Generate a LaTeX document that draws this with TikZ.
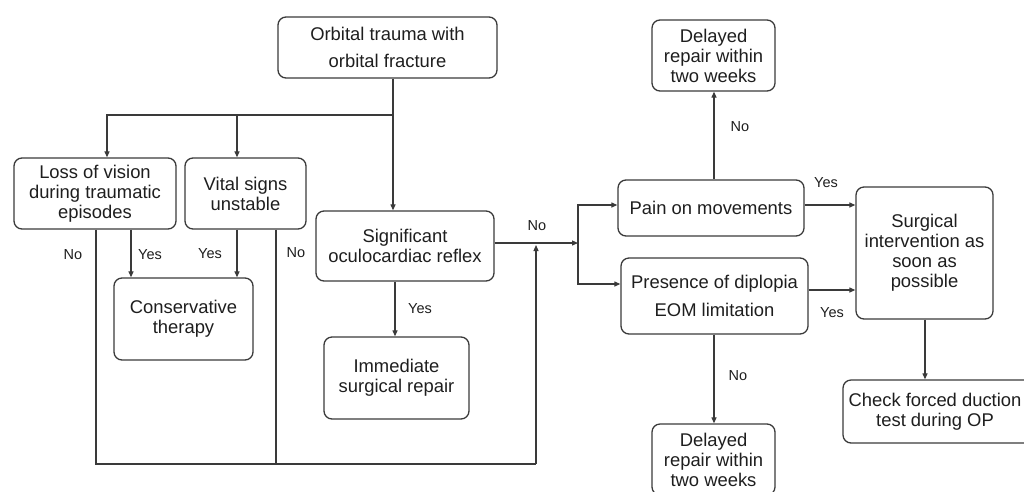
\documentclass[tikz,border=0pt]{standalone}
\usepackage{fontspec}
\setmainfont{Liberation Sans}
\usetikzlibrary{arrows.meta}
\definecolor{lc}{HTML}{3A3A3A}
\definecolor{tc}{HTML}{1E1E1E}
\tikzset{
  box/.style={draw=lc, line width=1.3pt, rounded corners=8pt, align=center, inner sep=0pt, text=tc,
    font=\fontsize{18.4}{20}\selectfont},
  widebox/.style={box, font=\fontsize{18.4}{27.5}\selectfont},
  arr/.style={draw=lc, line width=1.2pt, -{Triangle[length=6pt,width=5pt]}},
  ln/.style={draw=lc, line width=1.2pt},
  lbl/.style={text=tc, inner sep=0pt, font=\fontsize{14.5}{16}\selectfont}
}
\begin{document}
\begin{tikzpicture}[x=1pt,y=-1pt]
\useasboundingbox (0,0) rectangle (1024,491);
% nodes
\node[widebox, minimum width=219pt, minimum height=61pt] (top) at (387.5,47.5) {Orbital trauma with\\orbital fracture};
\node[box, minimum width=162pt, minimum height=71pt] (loss) at (95,193.5) {Loss of vision\\during traumatic\\episodes};
\node[box, minimum width=121pt, minimum height=71pt] (vital) at (245.5,193.5) {Vital signs\\unstable};
\node[box, minimum width=178pt, minimum height=70pt] (oculo) at (405,246) {Significant\\oculocardiac reflex};
\node[box, minimum width=139pt, minimum height=82pt] (cons) at (183.5,319) {Conservative\\therapy};
\node[box, minimum width=145pt, minimum height=82pt] (imm) at (396.5,378) {Immediate\\surgical repair};
\node[box, minimum width=186pt, minimum height=56pt] (pain) at (711,208) {Pain on movements};
\node[widebox, minimum width=187pt, minimum height=76pt] (pres) at (714.5,296) {Presence of diplopia\\EOM limitation};
\node[box, minimum width=123pt, minimum height=71pt] (del1) at (713.5,55.5) {Delayed\\repair within\\two weeks};
\node[box, minimum width=123pt, minimum height=71pt] (del2) at (713.5,459.5) {Delayed\\repair within\\two weeks};
\node[box, minimum width=137pt, minimum height=132pt] (surg) at (924.5,253) {Surgical\\intervention as\\soon as\\possible};
\node[box, minimum width=190pt, minimum height=63pt] (check) at (938,411.5) {\hspace*{-6pt}Check forced duction\\\hspace*{-6pt}test during OP};
% junctions
\coordinate (j1) at (393,115);
\coordinate (bj) at (536,464);
\coordinate (mj) at (578,243);
% connectors
\draw[ln] (top.south -| j1) -- (j1);
\draw[arr] (j1) -| (107,0 |- loss.north);
\draw[arr] (237,0 |- j1) -- (237,0 |- vital.north);
\draw[arr] (j1) -- (j1 |- oculo.north);
\draw[arr] (131,0 |- loss.south) -- (131,0 |- cons.north);
\draw[arr] (237,0 |- vital.south) -- (237,0 |- cons.north);
\draw[ln] (96,0 |- loss.south) |- (bj);
\draw[ln] (276,0 |- vital.south) -- (276,0 |- bj);
\draw[arr] (bj) -- ([yshift=-2pt]bj |- mj);
\draw[arr] (oculo.east |- mj) -- (mj);
\draw[arr] (mj) |- (pain.west |- 0,205);
\draw[arr] (mj) |- (pres.west |- 0,284);
\draw[arr] (714,0 |- pain.north) -- (714,0 |- del1.south);
\draw[arr] (714,0 |- pres.south) -- (714,0 |- del2.north);
\draw[arr] (pain.east |- 0,205) -- (surg.west |- 0,205);
\draw[arr] (pres.east |- 0,290) -- (surg.west |- 0,290);
\draw[arr] (925,0 |- surg.south) -- (925,0 |- check.north);
\draw[arr] (395,0 |- oculo.south) -- (395,0 |- imm.north);
% labels
\node[lbl] (l1) at (73,255) {No};
\node[lbl] (l2) at (150,255) {Yes};
\node[lbl] (l3) at (210,254) {Yes};
\node[lbl] (l4) at (296,253) {No};
\node[lbl] (l5) at (420,309) {Yes};
\node[lbl] (l6) at (537,226) {No};
\node[lbl] (l7) at (740,127) {No};
\node[lbl] (l8) at (826,183) {Yes};
\node[lbl] (l9) at (832,313) {Yes};
\node[lbl] (l10) at (738,376) {No};
\end{tikzpicture}
\end{document}
